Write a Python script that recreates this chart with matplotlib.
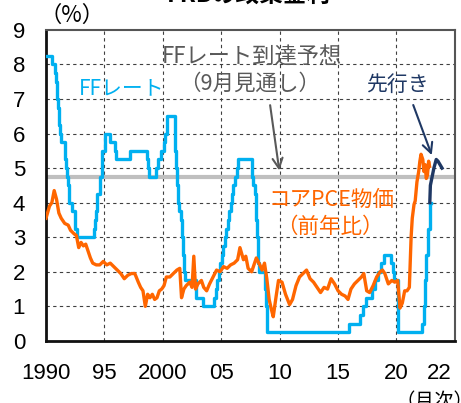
import numpy as np
import matplotlib
matplotlib.use("Agg")
import matplotlib.pyplot as plt

plt.rcParams['font.family'] = ['Liberation Sans', 'Noto Sans CJK JP', 'DejaVu Sans']
JP = ['Noto Sans CJK JP', 'DejaVu Sans']

# FF rate target (upper bound), change dates and levels
ff_dates = ["1990-01", "1990-07", "1990-10", "1990-11", "1990-12", "1991-01", "1991-02",
            "1991-03", "1991-04", "1991-08", "1991-09", "1991-10", "1991-11", "1991-12",
            "1992-01", "1992-04", "1992-07", "1992-09", "1994-02", "1994-03", "1994-04",
            "1994-05", "1994-08", "1994-11", "1995-02", "1995-07", "1995-12", "1996-01",
            "1997-03", "1998-09", "1998-10", "1998-11", "1999-06", "1999-08", "1999-11",
            "2000-02", "2000-03", "2000-05", "2001-01", "2001-02", "2001-03", "2001-04",
            "2001-05", "2001-06", "2001-08", "2001-09", "2001-10", "2001-11", "2001-12",
            "2002-11", "2003-06", "2004-06", "2004-08", "2004-09", "2004-11", "2004-12",
            "2005-02", "2005-03", "2005-05", "2005-06", "2005-08", "2005-09", "2005-11",
            "2005-12", "2006-01", "2006-03", "2006-05", "2006-06", "2007-09", "2007-10",
            "2007-12", "2008-01", "2008-02", "2008-03", "2008-04", "2008-10", "2008-11",
            "2008-12", "2015-12", "2016-12", "2017-03", "2017-06", "2017-12", "2018-03",
            "2018-06", "2018-09", "2018-12", "2019-07", "2019-09", "2019-10", "2020-03",
            "2022-03", "2022-05", "2022-06", "2022-07", "2022-09", "2022-11", "2022-12"]
ff_rate = [8.25, 8.0, 7.75, 7.5, 7.0, 6.75, 6.25,
           6.0, 5.75, 5.5, 5.25, 5.0, 4.75, 4.5,
           4.0, 3.75, 3.25, 3.0, 3.25, 3.5, 3.75,
           4.25, 4.75, 5.5, 6.0, 5.75, 5.5, 5.25,
           5.5, 5.25, 5.0, 4.75, 5.0, 5.25, 5.5,
           5.75, 6.0, 6.5, 6.0, 5.5, 5.0, 4.5,
           4.0, 3.75, 3.5, 3.0, 2.5, 2.0, 1.75,
           1.25, 1.0, 1.25, 1.5, 1.75, 2.0, 2.25,
           2.5, 2.75, 3.0, 3.25, 3.5, 3.75, 4.0,
           4.25, 4.5, 4.75, 5.0, 5.25, 4.75, 4.5,
           4.25, 3.5, 3.0, 2.25, 2.0, 1.5, 1.0,
           0.25, 0.5, 0.75, 1.0, 1.25, 1.5, 1.75,
           2.0, 2.25, 2.5, 2.25, 2.0, 1.75, 0.25,
           0.5, 1.0, 1.75, 2.5, 3.25, 4.0, 4.0]

# expected path (futures)
fwd_years = [2022.85, 2022.9, 2023.05, 2023.2, 2023.4, 2023.55, 2023.9]
fwd_rate = [4.0, 4.5, 4.75, 5.0, 5.25, 5.2, 5.0]

# core PCE deflator, y/y %
pce_years = [1990.0, 1990.3, 1990.5, 1990.7, 1990.9, 1991.1, 1991.3, 1991.6, 1991.9,
             1992.1, 1992.4, 1992.6, 1992.8, 1993.0, 1993.2, 1993.4, 1993.6, 1993.8,
             1994.0, 1994.3, 1994.6, 1994.9, 1995.2, 1995.5, 1995.8, 1996.1, 1996.4,
             1996.7, 1997.0, 1997.3, 1997.6, 1997.9, 1998.1, 1998.3, 1998.5, 1998.7,
             1998.9, 1999.1, 1999.3, 1999.5, 1999.7, 1999.9, 2000.1, 2000.3, 2000.6,
             2000.9, 2001.2, 2001.45, 2001.6, 2001.8, 2002.0, 2002.3, 2002.5, 2002.65,
             2002.8, 2003.0, 2003.3, 2003.5, 2003.75, 2004.0, 2004.3, 2004.6, 2004.9,
             2005.2, 2005.5, 2005.8, 2006.1, 2006.4, 2006.6, 2006.9, 2007.1, 2007.3,
             2007.6, 2007.8, 2008.0, 2008.3, 2008.5, 2008.7, 2008.9, 2009.1, 2009.3,
             2009.45, 2009.7, 2009.9, 2010.2, 2010.5, 2010.85, 2011.1, 2011.4, 2011.7,
             2012.0, 2012.3, 2012.6, 2012.9, 2013.2, 2013.5, 2013.8, 2014.1, 2014.4,
             2014.7, 2015.0, 2015.3, 2015.6, 2015.85, 2016.1, 2016.4, 2016.7, 2017.0,
             2017.2, 2017.45, 2017.7, 2018.0, 2018.3, 2018.6, 2018.8, 2019.0, 2019.3,
             2019.6, 2019.85, 2020.1, 2020.3, 2020.5, 2020.7, 2020.9, 2021.1, 2021.25,
             2021.35, 2021.5, 2021.6, 2021.75, 2021.9, 2022.0, 2022.1, 2022.25, 2022.35,
             2022.45, 2022.55, 2022.65, 2022.75, 2022.83]
pce_values = [3.55, 3.9, 4.0, 4.35, 4.1, 3.7, 3.55, 3.4, 3.35,
              3.2, 3.1, 3.05, 2.7, 2.85, 2.75, 2.8, 2.6, 2.4,
              2.25, 2.2, 2.2, 2.3, 2.2, 2.25, 2.15, 2.05, 1.95,
              1.8, 1.9, 1.95, 1.95, 1.7, 1.55, 1.45, 1.0, 1.35,
              1.25, 1.35, 1.2, 1.25, 1.45, 1.5, 1.6, 1.85, 1.85,
              1.95, 2.05, 2.1, 1.25, 1.5, 1.6, 1.7, 1.55, 2.45,
              1.5, 1.65, 1.75, 1.55, 1.45, 1.65, 1.85, 2.05, 2.0,
              2.15, 2.1, 2.2, 2.25, 2.35, 2.7, 2.35, 2.45, 2.1,
              2.0, 2.2, 2.4, 2.2, 2.05, 2.25, 1.8, 1.2, 0.9,
              0.7, 1.3, 1.75, 1.7, 1.35, 1.05, 1.2, 1.6, 1.85,
              1.95, 2.05, 1.8, 1.7, 1.55, 1.4, 1.55, 1.5, 1.8,
              1.65, 1.45, 1.35, 1.3, 1.2, 1.5, 1.65, 1.75, 1.85,
              1.95, 1.45, 1.4, 1.6, 1.85, 2.0, 2.05, 1.95, 1.65,
              1.75, 1.7, 1.75, 0.95, 1.1, 1.45, 1.45, 1.55, 3.0,
              3.55, 3.95, 4.05, 4.6, 4.9, 5.2, 5.4, 5.25, 4.9,
              5.1, 4.7, 4.8, 5.2, 5.05]

# FOMC September projection for the policy rate
target_level = 4.75

xtick_pos = [1990, 1995, 2000, 2005, 2010, 2015, 2020, 2023.7]
xtick_labels = ["1990", "95", "2000", "05", "10", "15", "20", "22"]


def to_year(s):
    y, m = s.split("-")
    return int(y) + (int(m) - 1) / 12


ff_years = [to_year(d) for d in ff_dates]

fig = plt.figure(figsize=(4.61, 4.03), dpi=100)
ax = fig.add_axes([0.0998, 0.154, 0.887, 0.772])

for x in range(1995, 2021, 5):
    ax.axvline(x, color="#404040", lw=0.8, ls=(0, (3, 3)), zorder=1)
for y in range(1, 9):
    ax.axhline(y, color="#404040", lw=0.8, ls=(0, (3, 3)), zorder=1)

ax.axhline(target_level, color="#bfbfbf", lw=3, zorder=2)
ax.plot(ff_years, ff_rate, drawstyle="steps-post", color="#00b0f0", lw=2.4, zorder=3)
ax.plot(pce_years, pce_values, color="#ff6600", lw=2.4, zorder=4)
ax.plot(fwd_years, fwd_rate, color="#1f3864", lw=2.4, zorder=5)

ax.set_xlim(1990, 2025)
ax.set_ylim(0, 9)
ax.set_yticks(range(0, 10))
ax.set_xticks(xtick_pos)
ax.set_xticklabels(xtick_labels)
ax.tick_params(axis="both", length=0, labelsize=16)
ax.tick_params(axis="y", pad=15)
ax.tick_params(axis="x", pad=16)

for side in ["left", "bottom"]:
    ax.spines[side].set_linewidth(2)
    ax.spines[side].set_color("#111111")
for side in ["top", "right"]:
    ax.spines[side].set_linewidth(1.5)
    ax.spines[side].set_color("#555555")

# annotations
ax.text(2007.6, 8.2, "FFレート到達予想", color="#595959", fontsize=16, family=JP, ha="center", va="center")
ax.text(2007.4, 7.45, "（9月見通し）", color="#595959", fontsize=15.5, family=JP, ha="center", va="center")
ax.text(1996.5, 7.3, "FFレート", color="#00b0f0", fontsize=15, family=JP, ha="center", va="center")
ax.text(2020.1, 7.4, "先行き", color="#1f3864", fontsize=15, family=JP, ha="center", va="center")
ax.text(2014.4, 4.07, "コアPCE物価", color="#ff6600", fontsize=15.5, family=JP, ha="center", va="center")
ax.text(2014.3, 3.3, "（前年比）", color="#ff6600", fontsize=15.5, family=JP, ha="center", va="center")

ax.annotate("", xy=(2010.0, 4.85), xytext=(2009.15, 6.9),
            arrowprops=dict(arrowstyle="->", color="#595959", lw=1.5, mutation_scale=18))
ax.annotate("", xy=(2023.1, 5.3), xytext=(2021.35, 6.9),
            arrowprops=dict(arrowstyle="->", color="#1f3864", lw=1.5, mutation_scale=18))

fig.text(0.085, 0.962, "（%）", fontsize=16, family=JP, ha="left", va="center")
fig.text(0.858, 0.005, "（月次）", fontsize=14, family=JP, ha="left", va="center")
fig.text(0.54, 1.012, "FRBの政策金利", fontsize=17, family=JP, fontweight="bold", ha="center", va="center")

fig.savefig("out.png", dpi=100)
